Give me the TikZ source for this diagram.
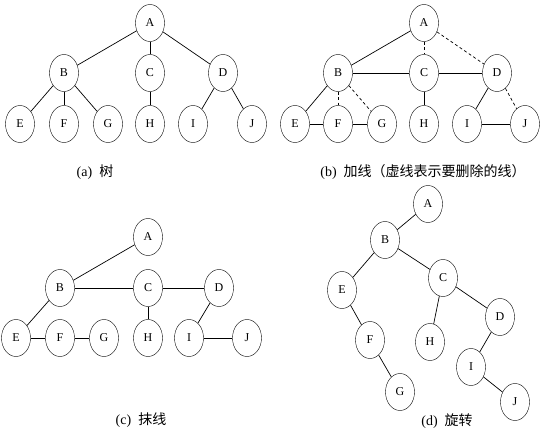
\documentclass[tikz,border=0pt]{standalone}
\usepackage{fontspec}
\setmainfont{Liberation Serif}
\newfontfamily\cjk{Noto Sans CJK SC}
\usetikzlibrary{shapes.geometric}

\begin{document}
\begin{tikzpicture}[
  x=1pt,
  y=-1pt,
  font=\fontsize{12}{14}\selectfont,
  vert/.style={
    draw,
    ellipse,
    inner sep=0pt,
    minimum width=29pt,
    minimum height=37pt,
    fill=white
  },
  edge/.style={line width=0.7pt},
  drop/.style={edge, dash pattern=on 3pt off 2.5pt},
  caption/.style={font=\fontsize{14}{16}\selectfont, inner sep=1pt}
]
\useasboundingbox (0,0) rectangle (543,433);

% (a) tree
\node[vert] (A1) at (150,23) {A};
\node[vert] (B1) at (64,73) {B};
\node[vert] (C1) at (150,73) {C};
\node[vert] (D1) at (223,73) {D};
\node[vert] (E1) at (20,124) {E};
\node[vert] (F1) at (64,124) {F};
\node[vert] (G1) at (108,124) {G};
\node[vert] (H1) at (150,124) {H};
\node[vert] (I1) at (193,124) {I};
\node[vert] (J1) at (252,124) {J};
\node[caption] (capA) at (95,172) {(a)\ \ {\cjk 树}};

\draw[edge] (A1) -- (B1);
\draw[edge] (A1) -- (C1);
\draw[edge] (A1) -- (D1);
\draw[edge] (B1) -- (E1);
\draw[edge] (B1) -- (F1);
\draw[edge] (B1) -- (G1);
\draw[edge] (C1) -- (H1);
\draw[edge] (D1) -- (I1);
\draw[edge] (D1) -- (J1);

% (b) add lines
\node[vert] (A2) at (424,23) {A};
\node[vert] (B2) at (338,73) {B};
\node[vert] (C2) at (424,73) {C};
\node[vert] (D2) at (497,73) {D};
\node[vert] (E2) at (295,124) {E};
\node[vert] (F2) at (338,124) {F};
\node[vert] (G2) at (382,124) {G};
\node[vert] (H2) at (424,124) {H};
\node[vert] (I2) at (467,124) {I};
\node[vert] (J2) at (525,124) {J};
\node[caption] (capB) at (423,172) {(b)\ \ {\cjk 加线（虚线表示要删除的线）}};

\draw[edge] (A2) -- (B2);
\draw[drop] (A2) -- (C2);
\draw[drop] (A2) -- (D2);
\draw[edge] (B2) -- (C2);
\draw[edge] (C2) -- (D2);
\draw[edge] (B2) -- (E2);
\draw[drop] (B2) -- (F2);
\draw[drop] (B2) -- (G2);
\draw[edge] (E2) -- (F2);
\draw[edge] (F2) -- (G2);
\draw[edge] (C2) -- (H2);
\draw[edge] (D2) -- (I2);
\draw[drop] (D2) -- (J2);
\draw[edge] (I2) -- (J2);

% (c) erase lines
\node[vert] (A3) at (148,237) {A};
\node[vert] (B3) at (60,288) {B};
\node[vert] (C3) at (148,288) {C};
\node[vert] (D3) at (219,288) {D};
\node[vert] (E3) at (16,338) {E};
\node[vert] (F3) at (60,338) {F};
\node[vert] (G3) at (104,338) {G};
\node[vert] (H3) at (148,338) {H};
\node[vert] (I3) at (189,338) {I};
\node[vert] (J3) at (247,338) {J};
\node[caption] (capC) at (141,420) {(c)\ \ {\cjk 抹线}};

\draw[edge] (A3) -- (B3);
\draw[edge] (B3) -- (C3);
\draw[edge] (C3) -- (D3);
\draw[edge] (B3) -- (E3);
\draw[edge] (E3) -- (F3);
\draw[edge] (F3) -- (G3);
\draw[edge] (C3) -- (H3);
\draw[edge] (D3) -- (I3);
\draw[edge] (I3) -- (J3);

% (d) rotate
\node[vert] (A4) at (428,204) {A};
\node[vert] (B4) at (385,240) {B};
\node[vert] (C4) at (443,278) {C};
\node[vert] (E4) at (342,290) {E};
\node[vert] (F4) at (370,340) {F};
\node[vert] (H4) at (430,342) {H};
\node[vert] (D4) at (500,317) {D};
\node[vert] (G4) at (400,392) {G};
\node[vert] (I4) at (471,367) {I};
\node[vert] (J4) at (515,402) {J};
\node[caption] (capD) at (447,421) {(d)\ \ {\cjk 旋转}};

\draw[edge] (A4) -- (B4);
\draw[edge] (B4) -- (E4);
\draw[edge] (B4) -- (C4);
\draw[edge] (E4) -- (F4);
\draw[edge] (F4) -- (G4);
\draw[edge] (C4) -- (H4);
\draw[edge] (C4) -- (D4);
\draw[edge] (D4) -- (I4);
\draw[edge] (I4) -- (J4);

\end{tikzpicture}
\end{document}
